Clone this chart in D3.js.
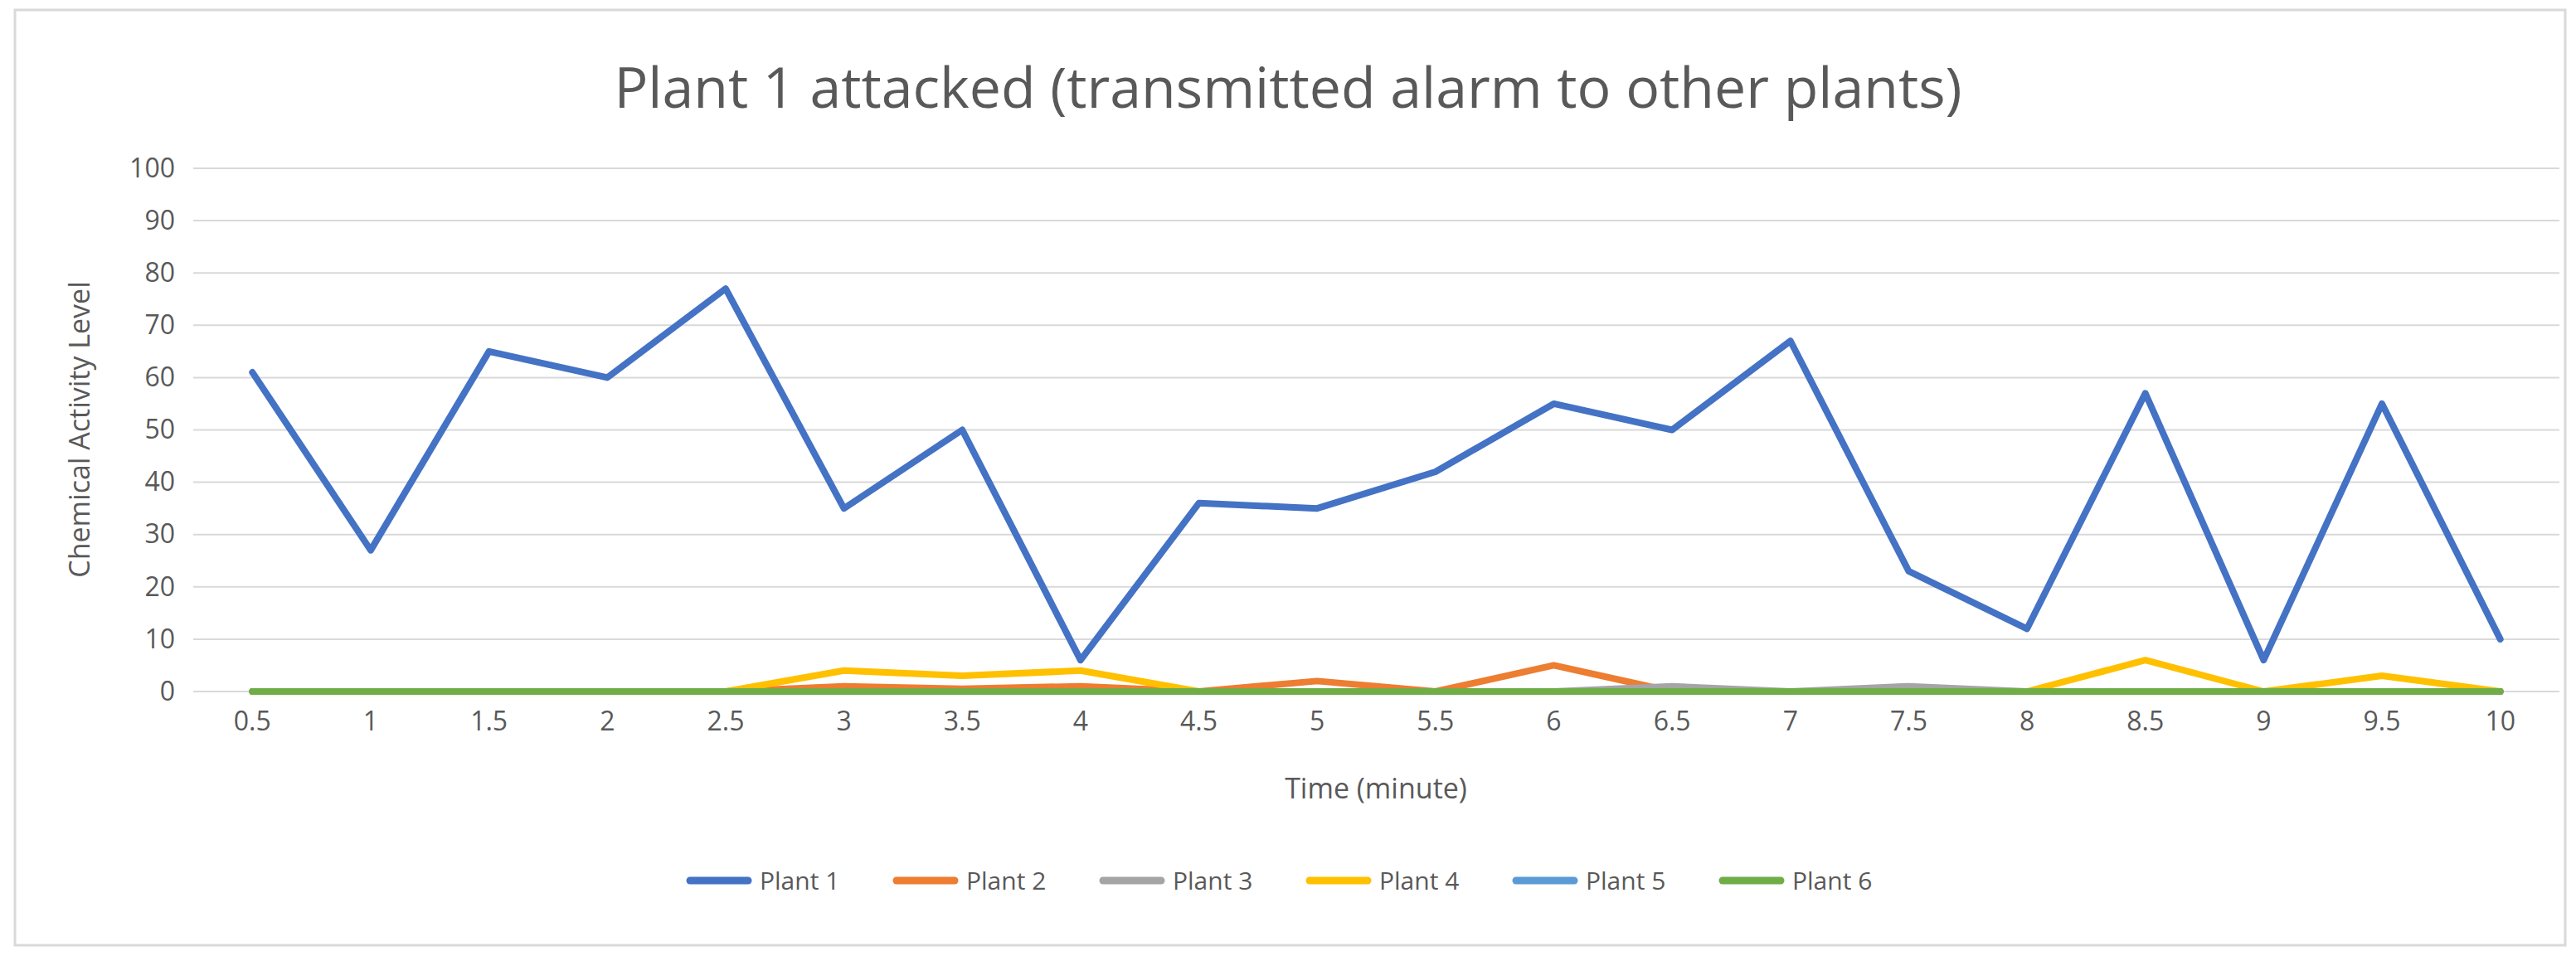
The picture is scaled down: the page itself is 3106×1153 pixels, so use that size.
<!DOCTYPE html><html><head><meta charset="utf-8"><script src="https://d3js.org/d3.v7.min.js"></script>
<style>body{margin:0;background:#fff}text{font-family:"Open Sans",sans-serif}</style></head><body><svg id="c" width="3106" height="1153"></svg><script>
const categories=["0.5","1","1.5","2","2.5","3","3.5","4","4.5","5","5.5","6","6.5","7","7.5","8","8.5","9","9.5","10"];
const plant1=[61,27,65,60,77,35,50,6,36,35,42,55,50,67,23,12,57,6,55,10];
const plant2=[0,0,0,0,0,1,0.5,1,0,2,0,5,0,0,0,0,0,0,0,0];
const plant3=[0,0,0,0,0,0,0,0,0,0,0,0,1,0,1,0,0,0,0,0];
const plant4=[0,0,0,0,0,4,3,4,0,0,0,0,0,0,0,0,6,0,3,0];
const plant5=[0,0,0,0,0,0,0,0,0,0,0,0,0,0,0,0,0,0,0,0];
const plant6=[0,0,0,0,0,0,0,0,0,0,0,0,0,0,0,0,0,0,0,0];
const seriesNames=["Plant 1","Plant 2","Plant 3","Plant 4","Plant 5","Plant 6"];
const colors=["#4472C4","#ED7D31","#A5A5A5","#FFC000","#5B9BD5","#70AD47"];
const yTicks=[0,10,20,30,40,50,60,70,80,90,100];
const series=[plant1,plant2,plant3,plant4,plant5,plant6];
const svg=d3.select("#c");
svg.append("rect").attr("x",18).attr("y",12).attr("width",3075).attr("height",1128).attr("fill","#fff").attr("stroke","#d9d9d9").attr("stroke-width",3);
const x=d3.scaleBand().domain(categories).range([233,3086]);
const y=d3.scaleLinear().domain([0,100]).range([834,203]);
const g=svg.append("g");
g.selectAll(".gl").data(yTicks).join("line").attr("x1",233).attr("x2",3086).attr("y1",d=>y(d)).attr("y2",d=>y(d)).attr("stroke","#d9d9d9").attr("stroke-width",2);
const ya=svg.append("g").attr("transform","translate(233,0)").call(d3.axisLeft(y).tickValues(yTicks).tickSize(0).tickPadding(22));
ya.select(".domain").remove();ya.selectAll("text").attr("font-size",32).attr("fill","#595959");
const xa=svg.append("g").attr("transform","translate(0,834)").call(d3.axisBottom(x).tickSize(0).tickPadding(24));
xa.select(".domain").remove();xa.selectAll("text").attr("font-size",32).attr("fill","#595959");
const line=d3.line().x((d,i)=>x(categories[i])+x.bandwidth()/2).y(d=>y(d));
series.forEach((s,i)=>{svg.append("path").datum(s).attr("d",line).attr("fill","none").attr("stroke",colors[i]).attr("stroke-width",8).attr("stroke-linejoin","round").attr("stroke-linecap","round");});
svg.append("text").attr("x",1553).attr("y",130).attr("text-anchor","middle").attr("font-size",68).attr("fill","#595959").text("Plant 1 attacked (transmitted alarm to other plants)");
svg.append("text").attr("x",1659).attr("y",963).attr("text-anchor","middle").attr("font-size",34).attr("fill","#595959").text("Time (minute)");
svg.append("text").attr("transform","translate(108,518) rotate(-90)").attr("text-anchor","middle").attr("font-size",34).attr("fill","#595959").text("Chemical Activity Level");
const lg=svg.append("g");
seriesNames.forEach((n,i)=>{const lx=832+i*249;
lg.append("line").attr("x1",lx).attr("x2",lx+70).attr("y1",1062).attr("y2",1062).attr("stroke",colors[i]).attr("stroke-width",9).attr("stroke-linecap","round");
lg.append("text").attr("x",lx+84).attr("y",1073).attr("font-size",30).attr("fill","#595959").text(n);});
</script></body></html>
